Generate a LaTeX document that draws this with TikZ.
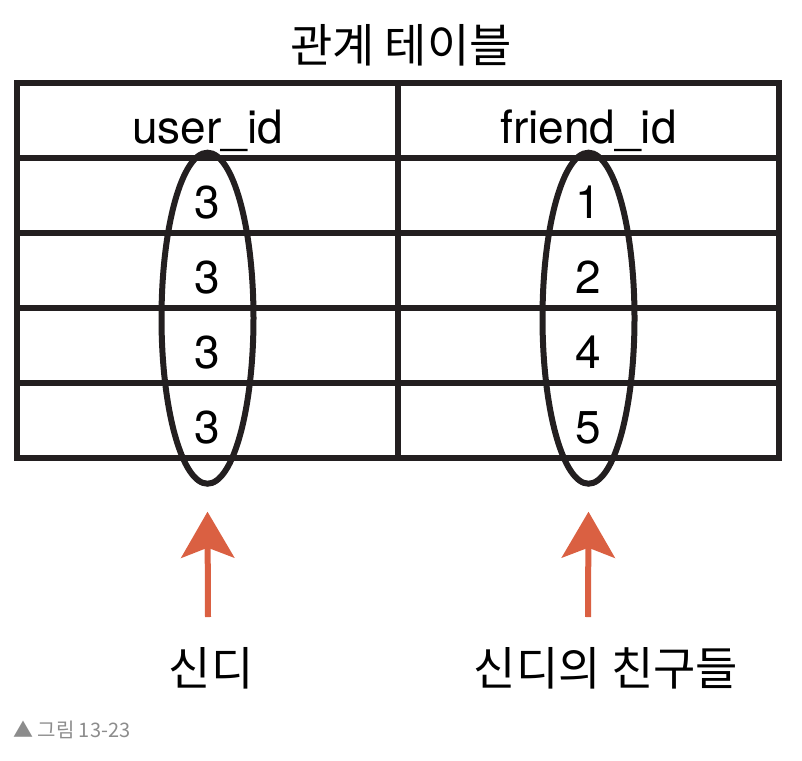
\documentclass[tikz,border=0pt]{standalone}
\usepackage{fontspec}
\setmainfont{TeX Gyre Heros}
\newfontfamily\kr{Noto Sans CJK KR}
\usetikzlibrary{matrix,arrows.meta,shapes.geometric}
\definecolor{ink}{RGB}{35,31,32}
\definecolor{arrowred}{RGB}{218,96,66}
\definecolor{capgray}{RGB}{140,140,140}

\begin{document}
\begin{tikzpicture}[x=1pt,y=-1pt,
		grid/.style={draw=ink,line width=6pt},
		oval/.style={ellipse,draw=ink,line width=6pt,inner sep=0pt,outer sep=0pt,minimum width=92pt,minimum height=331pt},
		pointer/.style={draw=arrowred,line width=6pt,-{Stealth[length=46pt,width=53pt,inset=10pt]}},
		hangul/.style={font=\kr\fontsize{46}{50}\selectfont}]
		\useasboundingbox (0,0) rectangle (802,760);
		\node[hangul] (title) at (401,45) {관계 테이블};
		%\matrix(m)[matrix of nodes, row sep=0pt, column sep=0pt]
		\matrix(m)[matrix of nodes, inner sep=0pt,
			nodes={minimum width=381pt, minimum height=75pt, inner sep=0pt, text height=45pt, text depth=0pt, font=\fontsize{46}{50}\selectfont}]
			at (398,270.5)
		{
			user\_id & friend\_id \\
			3 & 1 \\
			3 & 2 \\
			3 & 4 \\
			3 & 5 \\
		};
		\draw[grid] (m-1-1.north west) rectangle (m-5-2.south east);
		\draw[grid] (m-1-1.north east) -- (m-5-1.south east);
		\foreach \r in {1,...,4}
			\draw[grid] (m-\r-1.south west) -- (m-\r-2.south east);
		\node[oval] (usr) at ([yshift=-10pt]m-3-1.south) {};
		\node[oval] (frd) at ([yshift=-10pt]m-3-2.south) {};
		\node[hangul] (cindi) at (211,668) {신디};
		\node[hangul] (friends) at (606,668) {신디의 친구들};
		\coordinate (tailA) at (208,617);
		\coordinate (tailB) at (588,617);
		\draw[pointer] (tailA) -- ([yshift=-28pt]usr.south);
		\draw[pointer] (tailB) -- ([yshift=-28pt]frd.south);
		\node[anchor=west, inner sep=0pt, text=capgray, font=\kr\fontsize{20}{24}\selectfont] (fig) at (13,730) {▲ 그림 13-23};
\end{tikzpicture}
\end{document}
